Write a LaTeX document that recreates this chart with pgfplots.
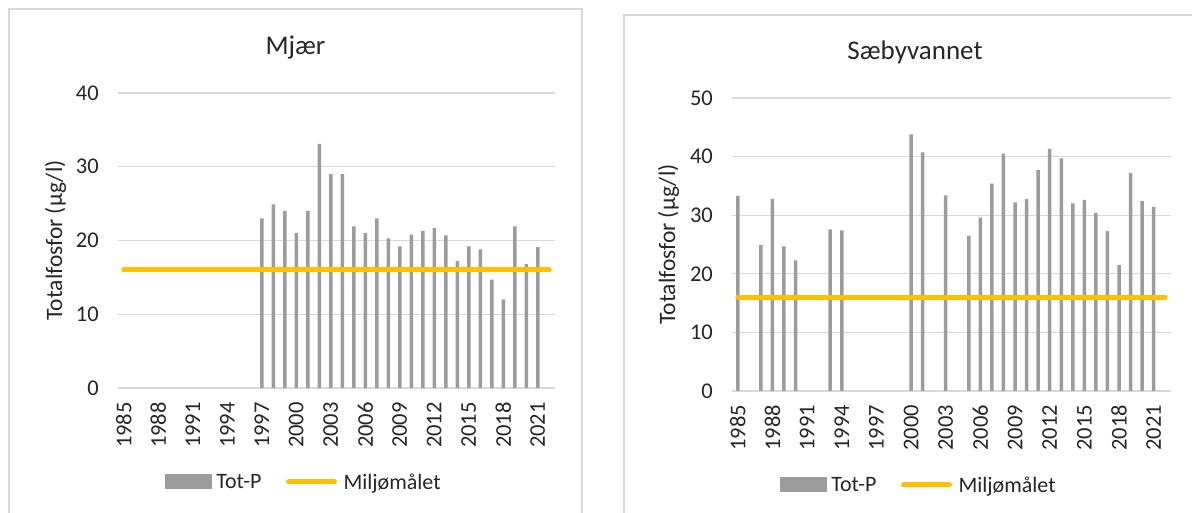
\documentclass[border=0pt]{standalone}
\usepackage{pgfplots}
\pgfplotsset{compat=1.18}
\usepackage{pgfplotstable}
\usepackage{fontspec}
\setmainfont{Carlito}

\definecolor{barcol}{HTML}{9C9C9C}
\definecolor{goal}{HTML}{FFC000}
\definecolor{gridcol}{HTML}{D9D9D9}
\definecolor{txt}{HTML}{262626}

% Total phosphorus, annual means (ug/l)
\pgfplotstableread{
year totp
1997 23.0
1998 24.9
1999 24.0
2000 21.0
2001 24.0
2002 33.1
2003 29.0
2004 29.0
2005 21.9
2006 21.0
2007 23.0
2008 20.3
2009 19.2
2010 20.8
2011 21.3
2012 21.7
2013 20.7
2014 17.2
2015 19.2
2016 18.8
2017 14.7
2018 12.0
2019 21.9
2020 16.8
2021 19.1
}\mjaer

\pgfplotstableread{
year totp
1985 33.3
1987 24.9
1988 32.8
1989 24.7
1990 22.3
1993 27.6
1994 27.4
2000 43.8
2001 40.7
2003 33.4
2005 26.5
2006 29.6
2007 35.4
2008 40.5
2009 32.2
2010 32.8
2011 37.7
2012 41.3
2013 39.7
2014 32.0
2015 32.6
2016 30.4
2017 27.3
2018 21.5
2019 37.2
2020 32.4
2021 31.4
}\saeby

% Environmental target
\pgfplotstableread{
year goal
1985 16
2022 16
}\target

\newcommand{\ticksize}{\fontsize{22.5bp}{27bp}\selectfont}
\newcommand{\legsize}{\fontsize{22bp}{26bp}\selectfont}

\pgfplotsset{
  lakechart/.style={
    scale only axis,
    xmin=1984.5, xmax=2022.5,
    ymin=0,
    xtick={1985,1988,...,2021},
    axis line style={draw=none},
    major tick length=0pt,
    ymajorgrids,
    grid style={gridcol, line width=1.2bp},
    /pgf/number format/assume math mode=true,
    /pgf/number format/1000 sep={},
    tick label style={font=\ticksize, text=txt},
    xticklabel style={rotate=90, anchor=east, inner xsep=14bp, inner ysep=0pt},
    yticklabel style={anchor=east, inner xsep=19bp, inner ysep=0pt},
    legend columns=2,
    legend style={draw=none, fill=none, font=\legsize, text=txt, anchor=center,
      nodes={inner sep=0pt},
      /tikz/every odd column/.append style={column sep=4bp},
      /tikz/every even column/.append style={column sep=22bp}},
  },
  totpbar/.style={ybar, bar width=3.5bp, fill=barcol, draw=none,
    legend image code/.code={\fill[barcol] (0bp,-7.5bp) rectangle (47bp,7.5bp);}},
  goalline/.style={goal, line width=5bp, line cap=round,
    legend image code/.code={\path (0bp,0bp) (51bp,0bp);
      \draw[goal, line width=5bp, line cap=round] (2.5bp,0bp) -- (48.5bp,0bp);}},
}

\begin{document}
\begin{tikzpicture}
\useasboundingbox (0bp,0bp) rectangle (1192bp,513bp);
\clip (0bp,0bp) rectangle (1192bp,513bp);

% chart frames
\draw[gridcol, line width=1.2bp, fill=white] (9bp,-5bp) rectangle (582bp,504bp);
\draw[gridcol, line width=1.2bp, fill=white] (624bp,-5bp) rectangle (1215bp,498bp);

% titles and axis titles
\node[anchor=base, font=\fontsize{27bp}{32bp}\selectfont, text=txt] at (295.5bp,458bp) {Mjær};
\node[anchor=base, font=\fontsize{27bp}{32bp}\selectfont, text=txt] at (915bp,453bp) {Sæbyvannet};
\node[rotate=90, anchor=base, font=\fontsize{23.5bp}{28bp}\selectfont, text=txt] at (62bp,272.5bp) {Totalfosfor (µg/l)};
\node[rotate=90, anchor=base, font=\fontsize{23.5bp}{28bp}\selectfont, text=txt] at (675bp,268.5bp) {Totalfosfor (µg/l)};

% Mjær
\begin{axis}[lakechart,
  at={(118bp,125bp)}, anchor=south west,
  width=437bp, height=295bp,
  ymax=40, ytick={0,10,...,40},
  legend style={at={(0.4234,-0.3186)}}]
\addplot[totpbar] table[x=year, y=totp] {\mjaer};
\addlegendentry{Tot-P}
\addplot[goalline] table[x=year, y=goal] {\target};
\addlegendentry{Miljømålet}
\end{axis}

% Sæbyvannet
\begin{axis}[lakechart,
  at={(732bp,122bp)}, anchor=south west,
  width=439bp, height=293bp,
  ymax=50, ytick={0,10,...,50},
  legend style={at={(0.4237,-0.3208)}}]
\addplot[totpbar] table[x=year, y=totp] {\saeby};
\addlegendentry{Tot-P}
\addplot[goalline] table[x=year, y=goal] {\target};
\addlegendentry{Miljømålet}
\end{axis}
\end{tikzpicture}
\end{document}
